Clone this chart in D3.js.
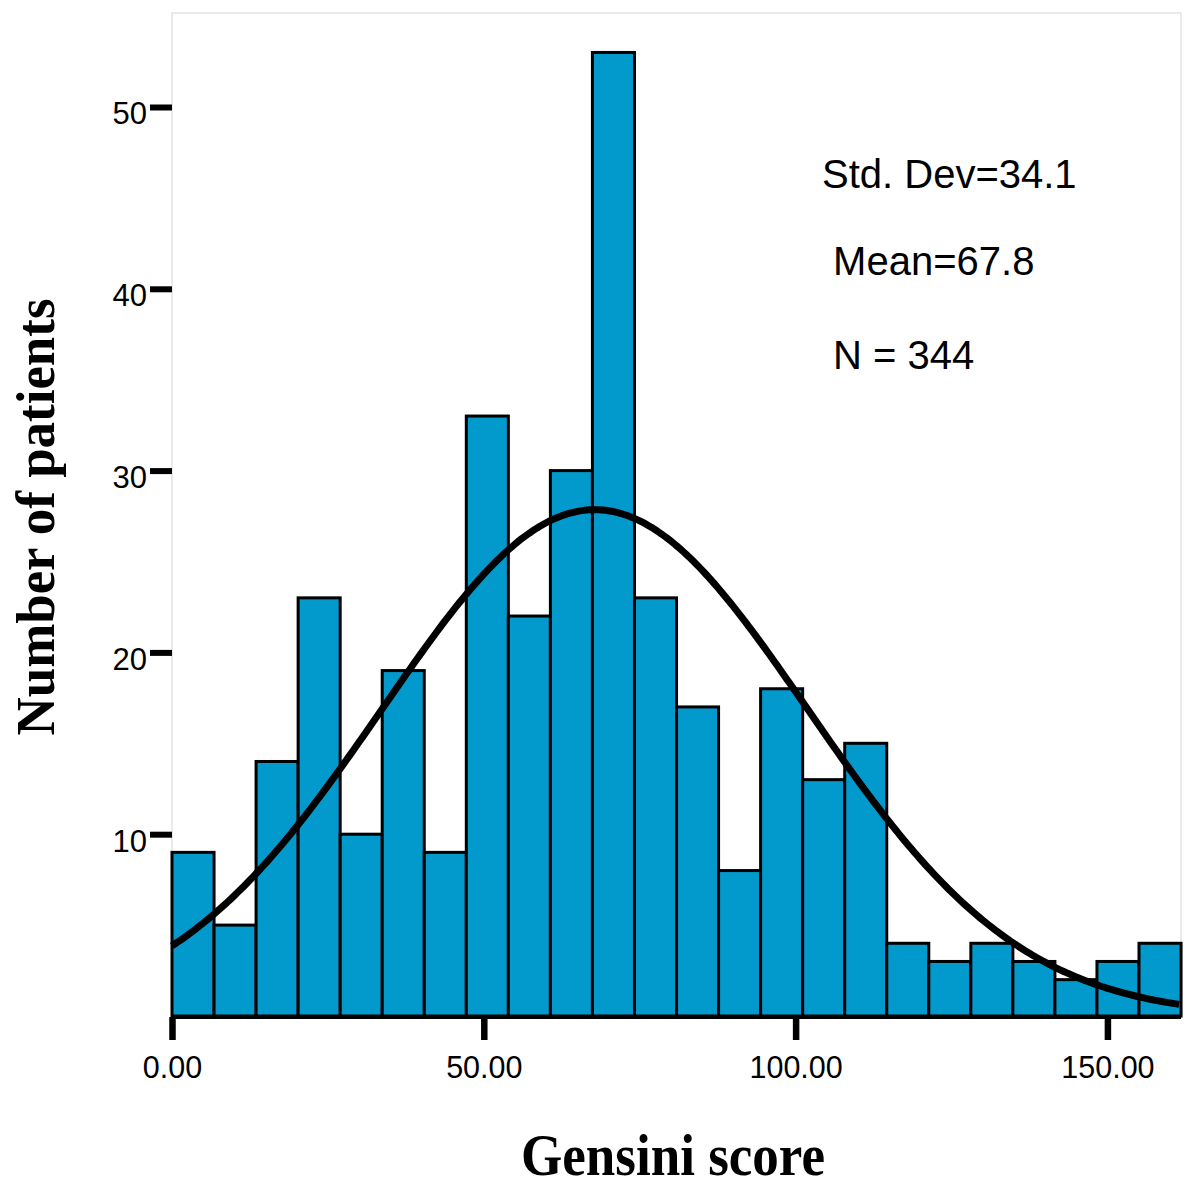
<!DOCTYPE html>
<html>
<head>
<meta charset="utf-8">
<script src="https://cdn.jsdelivr.net/npm/d3@7"></script>
<style>
  html, body { margin: 0; padding: 0; background: #fff; }
  svg { display: block; }
</style>
</head>
<body>
<svg id="chart" width="1200" height="1197"></svg>
<script>
// ---- data ----
const binStart = 0;
const binWidth = 6.742;
const counts = [9, 5, 14, 23, 10, 19, 9, 33, 22, 30, 53, 23, 17, 8, 18, 13, 15, 4, 3, 4, 3, 2, 3, 4];
const xTicks = [0, 50, 100, 150];
const yTicks = [10, 20, 30, 40, 50];
const statLabels = ["Std. Dev=34.1", " Mean=67.8", " N = 344"];
const stdDev = 34.1;
const mean = 67.8;
const nTotal = 344;
const curveBinWidth = 6.92;
const xTitle = "Gensini score";
const yTitle = "Number of patients";

(function () {
// ---- layout ----
const svg = d3.select("#chart");
const pLeft = 172, pRight = 1181, pTop = 13, pBottom = 1016;
const x = d3.scaleLinear().domain([0, 161.8]).range([pLeft, pRight]);
const y = d3.scaleLinear().domain([0, 55.17]).range([pBottom, pTop]);

// frame
svg.append("rect")
  .attr("x", pLeft).attr("y", pTop)
  .attr("width", pRight - pLeft).attr("height", pBottom - pTop)
  .attr("fill", "none").attr("stroke", "#e4e4e4").attr("stroke-width", 1.5);

// bars
const bins = counts.map((c, i) => ({ x0: binStart + i * binWidth, x1: binStart + (i + 1) * binWidth, c }));
svg.append("g").selectAll("rect").data(bins).join("rect")
  .attr("x", d => x(d.x0))
  .attr("y", d => y(d.c))
  .attr("width", d => x(d.x1) - x(d.x0))
  .attr("height", d => y(0) - y(d.c))
  .attr("fill", "#0299cc")
  .attr("stroke", "#000")
  .attr("stroke-width", 3);

// x axis baseline
svg.append("line")
  .attr("x1", x(0)).attr("x2", pRight)
  .attr("y1", y(0) + 1).attr("y2", y(0) + 1)
  .attr("stroke", "#000").attr("stroke-width", 4);

// normal curve from the stated statistics
const pts = d3.range(0, 161.8 + 0.01, 0.5).map(v => {
  const z = (v - mean) / stdDev;
  return [v, nTotal * curveBinWidth * Math.exp(-0.5 * z * z) / (stdDev * Math.sqrt(2 * Math.PI))];
});
svg.append("path")
  .datum(pts)
  .attr("fill", "none")
  .attr("stroke", "#000")
  .attr("stroke-width", 7)
  .attr("d", d3.line().x(d => x(d[0])).y(d => y(d[1])));

// y axis
const gy = svg.append("g").attr("transform", `translate(${pLeft},0)`)
  .call(d3.axisLeft(y).tickValues(yTicks).tickSize(22).tickPadding(3).tickFormat(d3.format("d")));
gy.select(".domain").remove();
gy.selectAll(".tick line").attr("stroke", "#000").attr("stroke-width", 6);
gy.selectAll(".tick text")
  .attr("font-family", "'Liberation Sans', Arial, sans-serif")
  .attr("font-size", 31).attr("fill", "#000")
  .attr("dy", "0.32em").attr("transform", "translate(0,7)");

// x axis
const gx = svg.append("g").attr("transform", `translate(0,${pBottom + 1})`)
  .call(d3.axisBottom(x).tickValues(xTicks).tickSize(23).tickFormat(d3.format(".2f")));
gx.select(".domain").remove();
gx.selectAll(".tick line").attr("stroke", "#000").attr("stroke-width", 6.5);
gx.selectAll(".tick text")
  .attr("font-family", "'Liberation Sans', Arial, sans-serif")
  .attr("font-size", 30.5).attr("fill", "#000")
  .attr("y", 61).attr("dy", 0);

// stats text
const statX = [822, 822, 822];
const statY = [188, 275, 369];
svg.append("g").selectAll("text").data(statLabels).join("text")
  .attr("x", (d, i) => statX[i])
  .attr("y", (d, i) => statY[i])
  .attr("font-family", "'Liberation Sans', Arial, sans-serif")
  .attr("font-size", 40)
  .attr("fill", "#000")
  .style("white-space", "pre")
  .text(d => d);

// axis titles
svg.append("text")
  .attr("x", 673).attr("y", 1175)
  .attr("text-anchor", "middle")
  .attr("font-family", "'Liberation Serif', 'Times New Roman', serif")
  .attr("font-weight", "bold")
  .attr("font-size", 60)
  .attr("textLength", 304).attr("lengthAdjust", "spacingAndGlyphs")
  .attr("fill", "#000")
  .text(xTitle);

svg.append("text")
  .attr("transform", "translate(54,517) rotate(-90)")
  .attr("text-anchor", "middle")
  .attr("font-family", "'Liberation Serif', 'Times New Roman', serif")
  .attr("font-weight", "bold")
  .attr("font-size", 55)
  .attr("textLength", 437).attr("lengthAdjust", "spacingAndGlyphs")
  .attr("fill", "#000")
  .text(yTitle);
})();
</script>
</body>
</html>
